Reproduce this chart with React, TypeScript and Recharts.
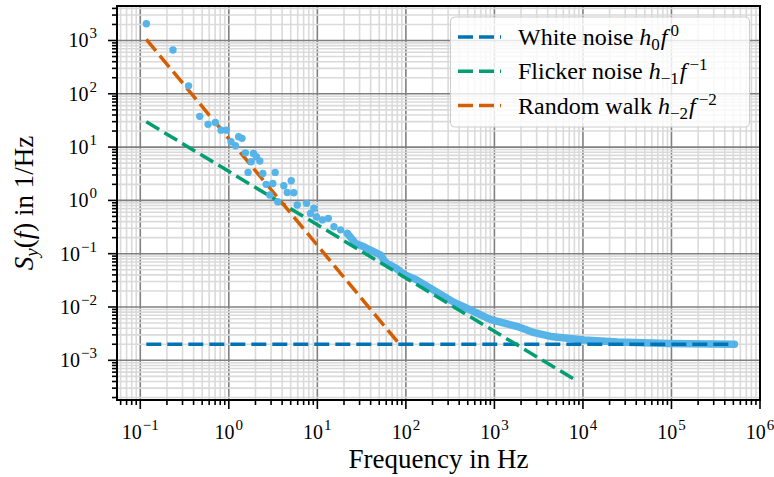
import React from 'react';
import { ComposedChart, XAxis, YAxis, CartesianGrid, Line, Scatter, ReferenceArea } from 'recharts';

// measured PSD points (low frequencies, spread out)
const scatterFreq = [
  0.117, 0.234, 0.351, 0.469, 0.583, 0.705, 0.818, 0.94, 1.06, 1.19, 1.29, 1.41, 1.54, 1.65, 1.79,
  1.9, 2.05, 2.24, 2.42, 2.64, 2.9, 3.14, 3.34, 3.57, 4.18, 4.57, 5.07, 5.42, 5.93, 7.55, 8.38,
  9.13, 9.79, 11.4, 13.3, 15.4, 18.3, 21.8,
];
const scatterPsd = [
  2060, 661, 141, 37.7, 26.7, 29, 20.8, 20.8, 12.6, 10.6, 15.6, 14.6, 7.8, 3.35, 5.3,
  7.6, 6.6, 5.5, 3.2, 2.0, 1.26, 2.08, 3.35, 0.94, 1.88, 1.41, 2.33, 1.39, 0.82, 0.88, 0.57,
  0.71, 0.49, 0.43, 0.46, 0.32, 0.28, 0.24,
];

// dense part of the PSD (points overlap into a band)
const bandFreq = [21.8, 27, 33.6, 38.3, 51.9, 59.1, 76.7, 95, 129, 208, 350, 454, 644, 910, 1820, 2810, 4340, 10350, 24700, 90800, 515000];
const bandPsd = [0.24, 0.156, 0.135, 0.12, 0.094, 0.068, 0.054, 0.041, 0.033, 0.0205, 0.0122, 0.0100, 0.0076, 0.0058, 0.0043, 0.0033, 0.0028, 0.0024, 0.0022, 0.00207, 0.002];

// fitted noise lines (end points)
const whiteFreq = [0.117, 515000];
const whitePsd = [0.002, 0.002];
const flickerFreq = [0.117, 8340];
const flickerPsd = [29.8, 0.00042];
const walkFreq = [0.117, 83.6];
const walkPsd = [1050, 0.00206];

const xExps = [-1, 0, 1, 2, 3, 4, 5, 6];
const yExps = [-3, -2, -1, 0, 1, 2, 3];
const minorMult = [2, 3, 4, 5, 6, 7, 8, 9];

const xMin = Math.pow(10, -1.263);
const xMax = 1e6;
const yMin = Math.pow(10, -3.745);
const yMax = Math.pow(10, 3.647);

const toPts = (fs: number[], ss: number[]) => fs.map((f, i) => ({ f, s: ss[i] }));
const scatterData = toPts(scatterFreq, scatterPsd);
const bandData = toPts(bandFreq, bandPsd);
const whiteData = toPts(whiteFreq, whitePsd);
const flickerData = toPts(flickerFreq, flickerPsd);
const walkData = toPts(walkFreq, walkPsd);

const minors = (lo: number, hi: number, min: number, max: number) => {
  const out: number[] = [];
  for (let e = lo; e <= hi; e++) minorMult.forEach((m) => {
    const v = m * Math.pow(10, e);
    if (v >= min && v <= max) out.push(v);
  });
  return out;
};
const xMajor = xExps.map((e) => Math.pow(10, e));
const yMajor = yExps.map((e) => Math.pow(10, e));
const xMinor = minors(-2, 5, xMin, xMax);
const yMinor = minors(-4, 3, yMin, yMax);

const FONT = "'Liberation Serif', 'DejaVu Serif', serif";
const sup = (e: number) => (e < 0 ? '\u2212' + Math.abs(e) : String(e));
const isMajor = (v: number) => Math.abs(Math.log10(v) - Math.round(Math.log10(v))) < 1e-9;

const XTick = (props: any) => {
  const { x, y, payload } = props;
  const major = isMajor(payload.value);
  return (
    <g>
      <line x1={x} x2={x} y1={y} y2={y + (major ? 9 : 5)} stroke="#000" strokeWidth={1.6} />
      {major && (
        <text x={x} y={y + 39} textAnchor="middle" fontFamily={FONT} fontSize={20} fill="#000">
          <tspan>10</tspan>
          <tspan dy={-9} dx={1} fontSize={15}>{sup(Math.round(Math.log10(payload.value)))}</tspan>
        </text>
      )}
    </g>
  );
};

const YTick = (props: any) => {
  const { x, y, payload } = props;
  const major = isMajor(payload.value);
  return (
    <g>
      <line x1={x - (major ? 9 : 5)} x2={x} y1={y} y2={y} stroke="#000" strokeWidth={1.6} />
      {major && (
        <text x={x - 20} y={y + 7} textAnchor="end" fontFamily={FONT} fontSize={20} fill="#000">
          <tspan>10</tspan>
          <tspan dy={-9} dx={1} fontSize={15}>{sup(Math.round(Math.log10(payload.value)))}</tspan>
        </text>
      )}
    </g>
  );
};

const Dot = (props: any) => <circle cx={props.cx} cy={props.cy} r={3.7} fill="#56b4e9" />;

const legendItems = [
  { color: '#0173b2', text: 'White noise ', sub: '0', sup: '0' },
  { color: '#029e73', text: 'Flicker noise ', sub: '\u22121', sup: '\u22121' },
  { color: '#d55e00', text: 'Random walk ', sub: '\u22122', sup: '\u22122' },
];

const Legend = () => (
  <svg width={774} height={477} style={{ position: 'absolute', left: 0, top: 0, pointerEvents: 'none' }}>
    <rect x={450.5} y={17} width={299} height={110} rx={4} fill="#fff" fillOpacity={0.8} stroke="#cccccc" strokeWidth={1} />
    {legendItems.map((it, i) => {
      const cy = 37 + i * 34.3;
      return (
        <g key={i}>
          <line x1={458} x2={501} y1={cy} y2={cy} stroke={it.color} strokeWidth={3.5} strokeDasharray="15 6" />
          <text x={518} y={cy + 8} fontFamily={FONT} fontSize={24} fill="#000">
            <tspan>{it.text}</tspan>
            <tspan fontStyle="italic">h</tspan>
            <tspan dy={5} fontSize={17}>{it.sub}</tspan>
            <tspan dy={-5} dx={1} fontStyle="italic">f</tspan>
            <tspan dy={-9} fontSize={17} dx={3}>{it.sup}</tspan>
          </text>
        </g>
      );
    })}
  </svg>
);

const YTitle = () => (
  <text x={33} y={203} transform="rotate(-90, 33, 203)" textAnchor="middle" fontFamily={FONT} fontSize={27} fill="#000">
    <tspan fontStyle="italic">S</tspan>
    <tspan fontStyle="italic" fontSize={19} dy={5}>y</tspan>
    <tspan dy={-5}>(</tspan>
    <tspan fontStyle="italic">f</tspan>
    <tspan>) in 1/Hz</tspan>
  </text>
);

const XTitle = () => (
  <text x={438.5} y={468} textAnchor="middle" fontFamily={FONT} fontSize={27} fill="#000">
    Frequency in Hz
  </text>
);

export default function App() {
  return (
    <div style={{ position: 'fixed', left: 0, top: 0, width: 774, height: 477, background: '#fff' }}>
      <ComposedChart width={774} height={477} margin={{ top: 6, right: 14, bottom: 0, left: 0 }}>
        <CartesianGrid verticalValues={xMajor} horizontal={false} stroke="#808080" strokeWidth={1.6} />
        <CartesianGrid verticalValues={xMinor} horizontal={false} stroke="#dadada" strokeWidth={1.6} />
        <CartesianGrid horizontalValues={yMajor} vertical={false} stroke="#808080" strokeWidth={1.6} />
        <CartesianGrid horizontalValues={yMinor} vertical={false} stroke="#dadada" strokeWidth={1.6} />
        <XAxis
          type="number"
          dataKey="f"
          scale="log"
          domain={[xMin, xMax]}
          allowDataOverflow
          ticks={[...xMajor, ...xMinor]}
          interval={0}
          tickSize={0}
          tickMargin={0}
          tickLine={false}
          axisLine={false}
          tick={<XTick />}
          height={77}
          label={{ content: () => <XTitle /> }}
        />
        <YAxis
          type="number"
          dataKey="s"
          scale="log"
          domain={[yMin, yMax]}
          allowDataOverflow
          ticks={[...yMajor, ...yMinor]}
          interval={0}
          tickSize={0}
          tickMargin={0}
          tickLine={false}
          axisLine={false}
          tick={<YTick />}
          width={117}
          label={{ content: () => <YTitle /> }}
        />
        <Line data={bandData} dataKey="s" type="linear" stroke="#56b4e9" strokeWidth={7.5} strokeLinecap="round" strokeLinejoin="round" dot={false} activeDot={false} isAnimationActive={false} />
        <Scatter data={scatterData} dataKey="s" shape={<Dot />} isAnimationActive={false} />
        <Line data={whiteData} dataKey="s" type="linear" stroke="#0173b2" strokeWidth={3.5} strokeDasharray="15 6" dot={false} activeDot={false} isAnimationActive={false} />
        <Line data={flickerData} dataKey="s" type="linear" stroke="#029e73" strokeWidth={3.5} strokeDasharray="15 6" dot={false} activeDot={false} isAnimationActive={false} />
        <Line data={walkData} dataKey="s" type="linear" stroke="#d55e00" strokeWidth={3.5} strokeDasharray="15 6" dot={false} activeDot={false} isAnimationActive={false} />
        <ReferenceArea x1={xMin} x2={xMax} y1={yMin} y2={yMax} fill="none" stroke="#000" strokeWidth={2} ifOverflow="visible" />
      </ComposedChart>
      <Legend />
    </div>
  );
}
